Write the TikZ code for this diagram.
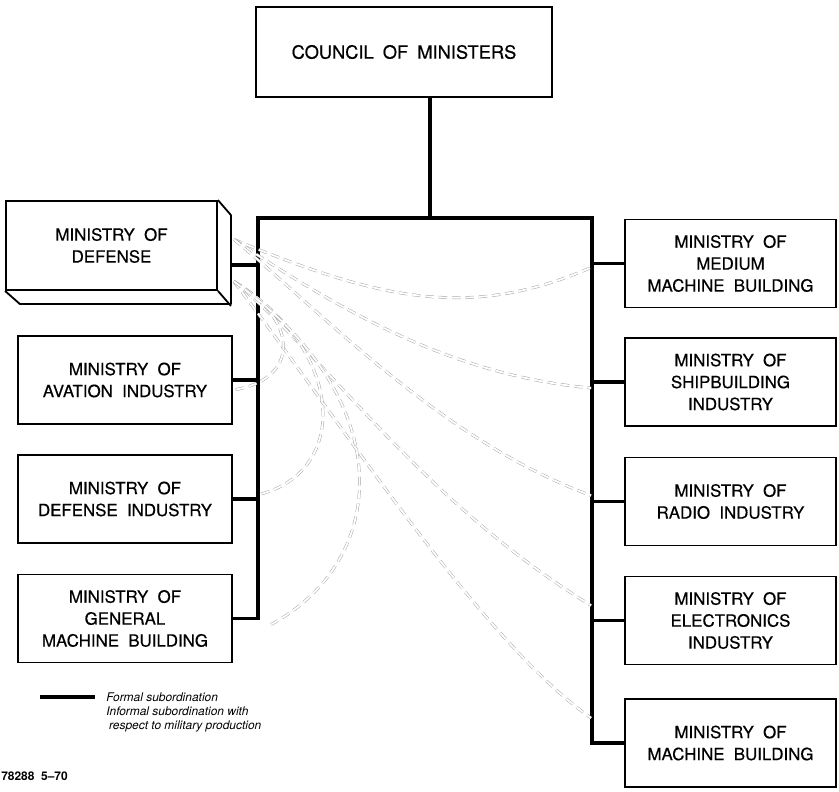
\documentclass[tikz,border=0pt]{standalone}
\usepackage{fontspec}
\setmainfont{TeX Gyre Heros}
\newfontfamily\boxfamily[FakeBold=0.5]{TeX Gyre Heros}
\usetikzlibrary{calc}
\newcommand\boxfont{\boxfamily\fontsize{12}{15.6}\selectfont\spaceskip 0.55em\relax}
\newcommand\councilfont{\boxfamily\fontsize{13}{15}\selectfont\spaceskip 0.5em\relax}
\tikzset{
  ministry/.style={draw=black, line width=1.3pt, rectangle, inner sep=0pt,
    minimum width=5.3cm, minimum height=2.2cm, align=center, font=\boxfont},
  formal/.style={black, line width=2.6pt},
  informal/.style={draw=black!35, line width=0.35pt, double=white,
    double distance=1.3pt, dash pattern=on 6pt off 3.5pt},
  keytext/.style={inner sep=0pt, align=left,
    font=\fontsize{8.5}{10.6}\selectfont\itshape},
}
\begin{document}
\begin{tikzpicture}[x=0.025cm, y=-0.025cm]
\useasboundingbox (0,0) rectangle (839,791);

\node[ministry, minimum width=7.4cm, minimum height=2.25cm, font=\councilfont] (council) at (404,52) {COUNCIL OF MINISTERS};

\node[ministry, minimum width=5.275cm, minimum height=2.225cm] (defense) at (111.5,245.5) {MINISTRY OF\\DEFENSE};
\node[ministry, minimum width=5.35cm] (avation) at (125,380) {MINISTRY OF\\AVATION INDUSTRY};
\node[ministry, minimum width=5.35cm] (defind) at (125,499) {MINISTRY OF\\DEFENSE INDUSTRY};
\node[ministry, minimum width=5.35cm] (general) at (125,618.5) {MINISTRY OF\\GENERAL\\MACHINE BUILDING};

\node[ministry, minimum width=5.275cm] (medium) at (730.5,263.5) {MINISTRY OF\\MEDIUM\\MACHINE BUILDING};
\node[ministry, minimum width=5.275cm] (ship) at (730.5,382) {MINISTRY OF\\SHIPBUILDING\\INDUSTRY};
\node[ministry, minimum width=5.275cm] (radio) at (730.5,501.5) {MINISTRY OF\\RADIO INDUSTRY};
\node[ministry, minimum width=5.275cm] (elec) at (730.5,620.5) {MINISTRY OF\\ELECTRONICS\\INDUSTRY};
\node[ministry, minimum width=5.275cm] (machine) at (730.5,743) {MINISTRY OF\\MACHINE BUILDING};

\draw[line width=1.3pt, line join=round] (defense.north east) -- ++(13,15) -- ++(0,89) -- ++(-211,0) -- (defense.south west);
\draw[line width=1.3pt] (defense.south east) -- ++(13,15);

\coordinate (tl) at (258,218);
\coordinate (tr) at (592,218);
\coordinate (drop) at ($(council.south)+(26,0)$);
\coordinate (defside) at ($(defense.east)+(13,19.5)$);

\draw[formal] (drop) -- (drop |- tl);
\draw[formal] (general.east) -| (tl) -- (tr) |- (machine.west);
\draw[formal] (defside) -- (defside -| tl);
\foreach \m in {avation,defind}
  \draw[formal] (\m.east) -- (\m.east -| tl);
\foreach \m in {medium,ship,radio,elec}
  \draw[formal] (\m.west) -- (\m.west -| tr);

\coordinate (du) at ($(defense.east)+(16,-6)$);
\coordinate (dl) at ($(defense.east)+(16,36)$);
\draw[informal] (du) .. controls (380,300) and (470,320) .. ($(medium.west)+(-33,4)$);
\draw[informal] (du) .. controls (340,310) and (450,375) .. ($(ship.west)+(-33,6)$);
\draw[informal] (du) .. controls (320,310) and (440,440) .. ($(radio.west)+(-33,-6)$);
\draw[informal] (dl) .. controls (330,360) and (420,500) .. ($(elec.west)+(-33,-15)$);
\draw[informal] (dl) .. controls (340,420) and (480,640) .. ($(machine.west)+(-33,-25)$);
\draw[informal] (dl) .. controls (300,320) and (300,380) .. ($(avation.east)+(0,10)$);
\draw[informal] (dl) .. controls (345,350) and (350,470) .. ($(defind.east)+(28,-5)$);
\draw[informal] (dl) .. controls (400,400) and (390,560) .. ($(general.east)+(38,6)$);

\coordinate (keya) at (40,697);
\coordinate (keyb) at (95,697);
\draw[formal, line width=2.2pt] (keya) -- (keyb);
\node[keytext, anchor=west] (keyformal) at (106,697) {Formal subordination};
\node[keytext, anchor=north west] (keyinformal) at (106,706) {Informal subordination with\\\hspace{2pt}respect to military production};
\node[inner sep=0pt, anchor=west, font=\fontsize{8.5}{10}\selectfont\bfseries] (code) at (1,776) {78288\ \ 5--70};
\end{tikzpicture}
\end{document}
